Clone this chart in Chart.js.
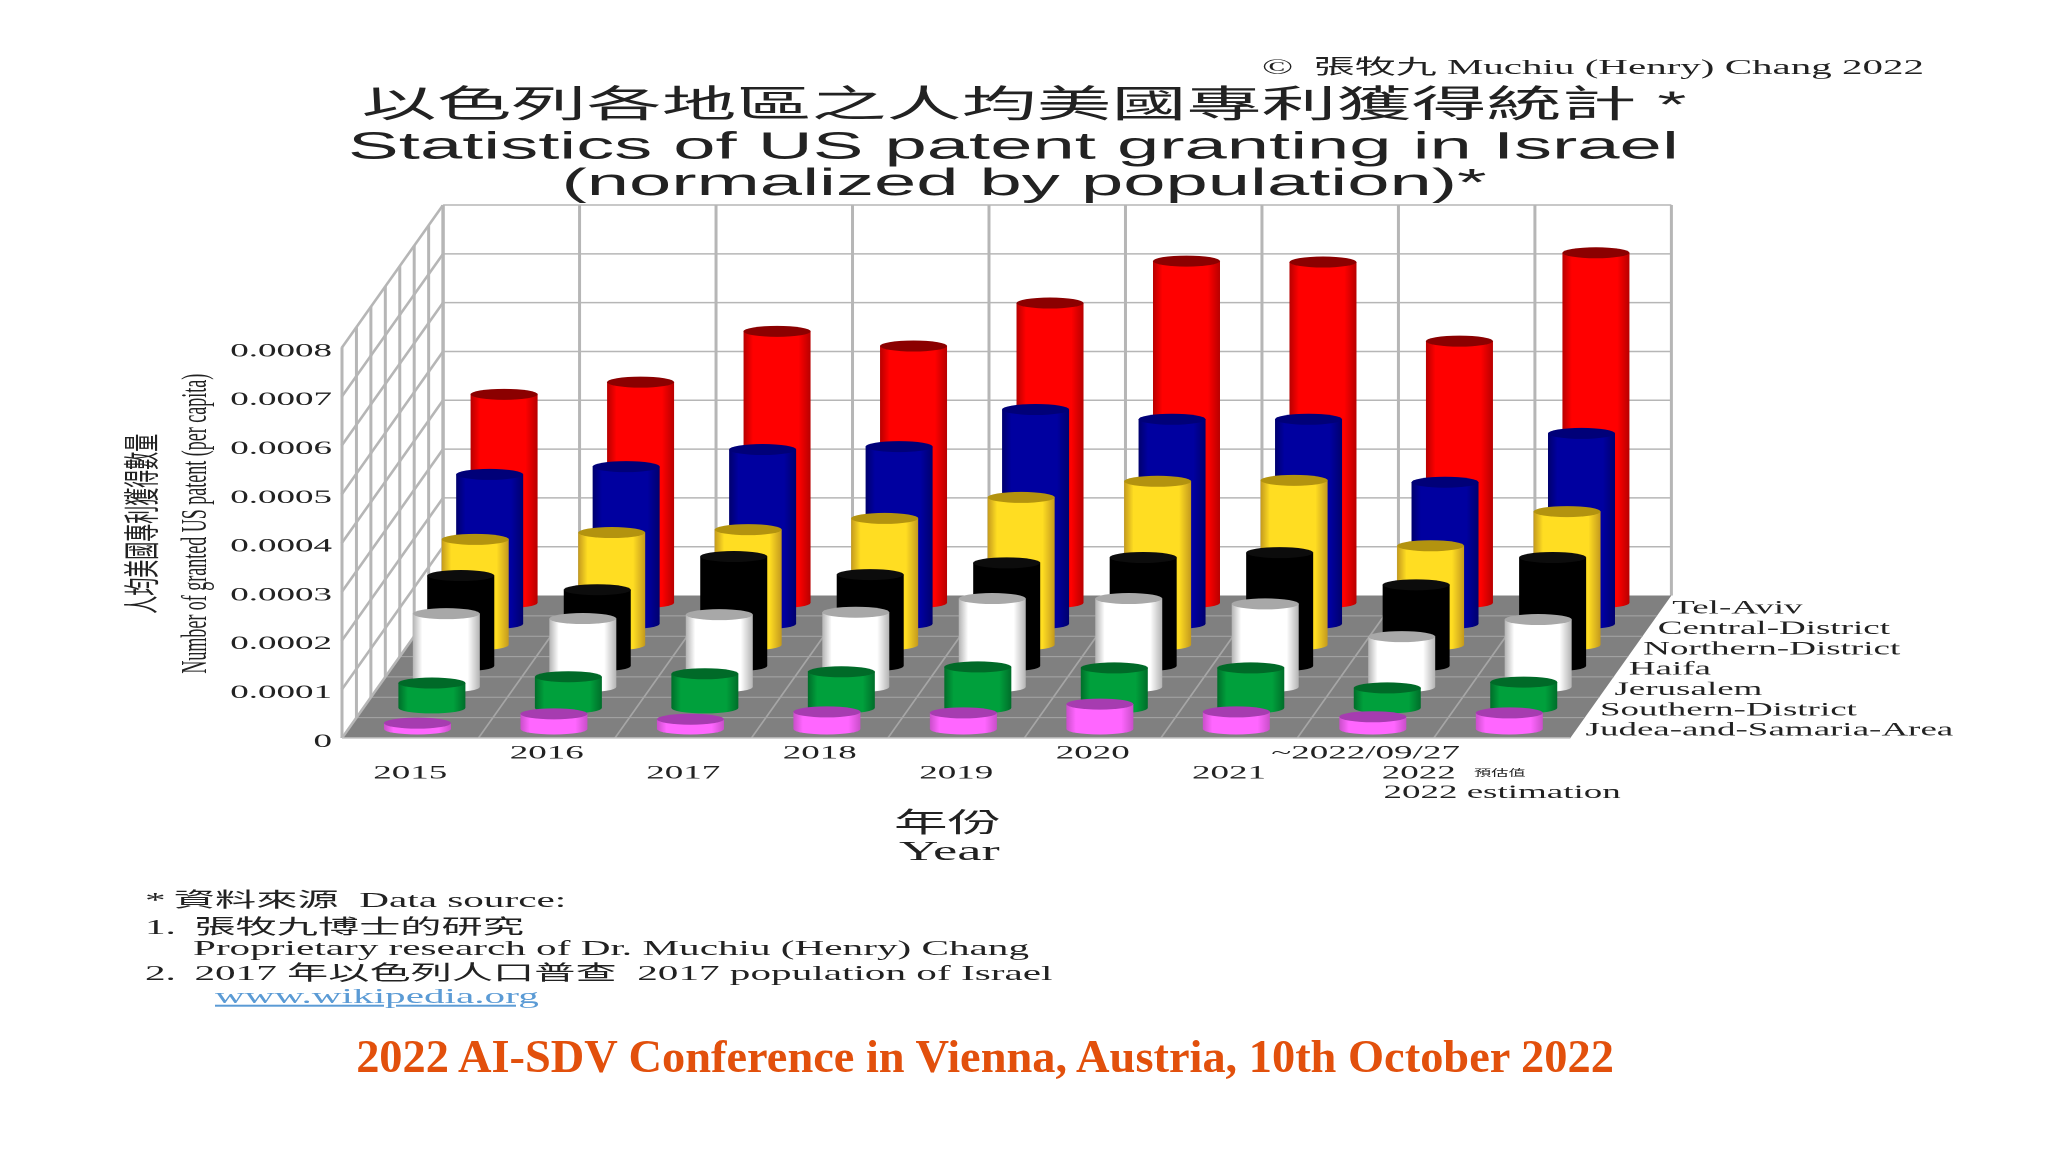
<!DOCTYPE html>
<html>
<head>
<meta charset="utf-8">
<title>Statistics of US patent granting in Israel</title>
<script src="https://cdn.jsdelivr.net/npm/chart.js@4/dist/chart.umd.min.js"></script>
<style>
    html, body { margin: 0; padding: 0; background: #fff; width: 2048px; height: 1152px; overflow: hidden; }
    /* the source slide is stretched sideways, so the whole chart is too */
    #stretch { position: absolute; left: 0; top: 0; height: 1152px; transform-origin: 0 0; }
    .note { position: absolute; white-space: pre; color: #222; line-height: 1; font-family: "Liberation Serif", "Noto Sans CJK TC", serif; transform: translateY(-50%); }
    .note a { color: #5b9bd5; text-decoration: underline; }
    #conference { position: absolute; left: 0; width: 1970px; top: 1056px; transform: translateY(-50%); text-align: center; color: #e2500c; font: bold 46.4px "Liberation Serif", serif; white-space: pre; }
</style>
</head>
<body>
<div id="stretch"><canvas id="patentChart"></canvas></div>
<div id="conference">2022 AI-SDV Conference in Vienna, Austria, 10th October 2022</div>

<script>
// ==============================================
// DATA (front row first)
// ==============================================
const years = ['2015', '2016', '2017', '2018', '2019', '2020', '2021', '~2022/09/27', '2022 estimation'];
const seriesNames = ['Judea-and-Samaria-Area', 'Southern-District', 'Jerusalem', 'Haifa', 'Northern-District', 'Central-District', 'Tel-Aviv'];

const judea    = [0.000012, 0.000031, 0.000020, 0.000035, 0.000033, 0.000051, 0.000035, 0.000025, 0.000033];
const southern = [0.000051, 0.000064, 0.000070, 0.000074, 0.000084, 0.000082, 0.000082, 0.000041, 0.000053];
const jerusalem = [0.000150, 0.000140, 0.000148, 0.000153, 0.000181, 0.000181, 0.000170, 0.000103, 0.000138];
const haifa    = [0.000185, 0.000156, 0.000224, 0.000187, 0.000211, 0.000222, 0.000232, 0.000166, 0.000222];
const northern = [0.000216, 0.000230, 0.000236, 0.000259, 0.000302, 0.000335, 0.000337, 0.000203, 0.000273];
const central  = [0.000306, 0.000322, 0.000357, 0.000363, 0.000439, 0.000419, 0.000419, 0.000290, 0.000390];
const telAviv  = [0.000427, 0.000452, 0.000556, 0.000526, 0.000614, 0.000700, 0.000698, 0.000536, 0.000717];
const seriesValues = [judea, southern, jerusalem, haifa, northern, central, telAviv];

const yTickMax = 0.0008;
const yTickStep = 0.0001;

// cylinder colours, same order as seriesNames
const bodyColors = ['#ff66ff', '#00a03c', '#ffffff', '#000000', '#ffdd22', '#0000a0', '#ff0000'];
const edgeColors = ['#c94fc9', '#006e2a', '#b4b4b4', '#000000', '#c49a1e', '#00006e', '#b80000'];
const capColors  = ['#a63cb0', '#006a28', '#a8a8a8', '#0c0c0c', '#b3930f', '#000078', '#8b0000'];

// ==============================================
// LAYOUT
// ==============================================
const STRETCH = 2.0;            // horizontal stretch of the whole slide
const CANVAS_W = 2048 / STRETCH;
const AXIS_LEFT = 342;          // screen px
const AXIS_BOTTOM = 738;

const X_MAX = 12.5;             // runs on to the canvas edge, grid stops at the last year
const Y_MAX = 0.00109;
const DEPTH_ROWS = seriesNames.length;
const DEPTH_X = 0.1058;         // floor shift per row, in year units
const DEPTH_Y = 0.0000417;      // floor shift per row, in value units
const BAR_FRONT_Y = 0.0000185;  // base of the front row
const BAR_DEPTH_Y = 0.0000431;
const BAR_W = 67 / STRETCH;
const CAP_RY = 5.5;

const TEXT_COLOR = '#222';
const SERIF = '"Liberation Serif", "Noto Sans CJK TC", serif';
const SANS = '"Liberation Sans", "Noto Sans CJK TC", sans-serif';

// floating bars: each row stands on its own strip of the floor
function buildDatasets() {
    return seriesNames.map((name, d) => ({
        label: name,
        data: seriesValues[d].map((v, i) => {
            const base = BAR_FRONT_Y + d * BAR_DEPTH_Y;
            return { x: i + 0.5 + (d + 0.5) * DEPTH_X, y: [base, base + v] };
        }),
        backgroundColor: bodyColors[d],
        barThickness: BAR_W,
        grouped: false
    }));
}

// ==============================================
// 3D ROOM PLUGIN (walls, floor, row names)
// ==============================================
function line(ctx, x1, y1, x2, y2) {
    ctx.beginPath();
    ctx.moveTo(x1, y1);
    ctx.lineTo(x2, y2);
    ctx.stroke();
}

const room3d = {
    id: 'room3d',
    beforeDatasetsDraw(chart) {
        const ctx = chart.ctx;
        const xs = chart.scales.x;
        const ys = chart.scales.y;
        const n = years.length;
        const px = (v, k) => xs.getPixelForValue(v + k * DEPTH_X);
        const py = (v, k) => ys.getPixelForValue(v + k * DEPTH_Y);

        ctx.save();
        // floor
        ctx.fillStyle = '#808080';
        ctx.beginPath();
        ctx.moveTo(px(0, 0), py(0, 0));
        ctx.lineTo(px(n, 0), py(0, 0));
        ctx.lineTo(px(n, DEPTH_ROWS), py(0, DEPTH_ROWS));
        ctx.lineTo(px(0, DEPTH_ROWS), py(0, DEPTH_ROWS));
        ctx.closePath();
        ctx.fill();

        ctx.strokeStyle = '#a6a6a6';
        ctx.lineWidth = 1;
        for (let k = 1; k < DEPTH_ROWS; k++) {
            line(ctx, px(0, k), py(0, k), px(n, k), py(0, k));
        }
        for (let i = 1; i < n; i++) {
            line(ctx, px(i, 0), py(0, 0), px(i, DEPTH_ROWS), py(0, DEPTH_ROWS));
        }

        // walls
        ctx.strokeStyle = '#b6b6b6';
        ctx.lineWidth = 1.5;
        for (let i = 0; i <= n; i++) {
            line(ctx, px(i, DEPTH_ROWS), py(0, DEPTH_ROWS), px(i, DEPTH_ROWS), py(yTickMax, DEPTH_ROWS));
        }
        for (let k = 0; k <= DEPTH_ROWS; k++) {
            line(ctx, px(0, k), py(0, k), px(0, k), py(yTickMax, k));
        }
        for (let t = 0; t <= 8; t++) {
            const v = t * yTickStep;
            line(ctx, px(0, 0), py(v, 0), px(0, DEPTH_ROWS), py(v, DEPTH_ROWS));
            if (t > 0) line(ctx, px(0, DEPTH_ROWS), py(v, DEPTH_ROWS), px(n, DEPTH_ROWS), py(v, DEPTH_ROWS));
        }
        ctx.strokeStyle = '#c4c4c4';
        line(ctx, px(0, 0), py(0, 0), px(n, 0), py(0, 0));

        // row names beside the floor
        ctx.fillStyle = TEXT_COLOR;
        ctx.font = '18.5px ' + SERIF;
        ctx.textAlign = 'left';
        ctx.textBaseline = 'middle';
        seriesNames.forEach((name, d) => {
            ctx.fillText(name, px(n, d + 0.5) + 4, py(0, d + 0.5) + 3);
        });
        ctx.restore();
    },
    // bars are painted as cylinders instead of rectangles
    beforeDatasetDraw(chart, args) {
        const ctx = chart.ctx;
        const d = args.index;
        args.meta.data.forEach(bar => {
            const p = bar.getProps(['x', 'y', 'base', 'width'], true);
            const rx = p.width / 2;
            const grad = ctx.createLinearGradient(p.x - rx, 0, p.x + rx, 0);
            grad.addColorStop(0, edgeColors[d]);
            grad.addColorStop(0.14, bodyColors[d]);
            grad.addColorStop(0.82, bodyColors[d]);
            grad.addColorStop(1, edgeColors[d]);

            ctx.fillStyle = grad;
            ctx.beginPath();
            ctx.moveTo(p.x - rx, p.y);
            ctx.lineTo(p.x - rx, p.base);
            ctx.ellipse(p.x, p.base, rx, CAP_RY, 0, Math.PI, 0, true);
            ctx.lineTo(p.x + rx, p.y);
            ctx.closePath();
            ctx.fill();

            ctx.fillStyle = capColors[d];
            ctx.beginPath();
            ctx.ellipse(p.x, p.y, rx, CAP_RY, 0, 0, Math.PI * 2);
            ctx.fill();
        });
        return false;
    }
};

// ==============================================
// TICK LABELS
// ==============================================
function yearTickLabel(value, index) {
    if (index === years.length - 1) {
        return ['', '2022' + ' '.repeat(18), years[index]];
    }
    return index % 2 === 0 ? ['', years[index]] : [years[index], ''];
}

// empty first line nudges the label a little below its grid line
function valueTickLabel(value) {
    if (value > yTickMax + 1e-9) return '';
    return ['', value === 0 ? '0' : value.toFixed(4)];
}

// ==============================================
// CHART
// ==============================================
function initChart() {
    new Chart(document.getElementById('patentChart'), {
        type: 'bar',
        data: { datasets: buildDatasets() },
        plugins: [room3d],
        options: {
            responsive: false,
            animation: false,
            devicePixelRatio: 2,
            layout: { padding: { left: 0, right: 0, top: 84, bottom: 0 } },
            plugins: {
                legend: { display: false },
                tooltip: { enabled: false },
                title: {
                    display: true,
                    text: '以色列各地區之人均美國專利獲得統計 *',
                    color: TEXT_COLOR,
                    font: { family: SANS, size: 37.5, weight: 'normal', lineHeight: 1.2 },
                    padding: { top: 0, bottom: 1 }
                },
                subtitle: {
                    display: true,
                    text: ['Statistics of US patent granting in Israel ', '(normalized by population)*'],
                    color: TEXT_COLOR,
                    font: { family: SANS, size: 38, weight: 'normal', lineHeight: 0.96 },
                    padding: { top: 0, bottom: 3 }
                }
            },
            scales: {
                x: {
                    type: 'linear',
                    offset: false,
                    min: 0,
                    max: X_MAX,
                    afterBuildTicks(scale) {
                        scale.ticks = years.map((y, i) => ({ value: i + 0.5 }));
                    },
                    afterFit(scale) { scale.height = 1152 - AXIS_BOTTOM; },
                    grid: { display: false },
                    border: { display: false },
                    ticks: {
                        autoSkip: false,
                        maxRotation: 0,
                        minRotation: 0,
                        padding: -2,
                        color: TEXT_COLOR,
                        font: { family: SERIF, size: 18.5, lineHeight: 1.06 },
                        callback: yearTickLabel
                    }
                },
                y: {
                    min: 0,
                    max: Y_MAX,
                    afterFit(scale) { scale.width = AXIS_LEFT / STRETCH; },
                    grid: { display: false, drawTicks: false },
                    border: { display: false },
                    title: {
                        display: true,
                        // trailing spaces push the centred lines down the axis
                        text: ['人均美國專利獲得數量' + ' '.repeat(23), 'Number of granted US patent (per capita)' + ' '.repeat(23)],
                        color: TEXT_COLOR,
                        font: { family: SERIF, size: 18, lineHeight: 1.42 },
                        padding: { top: 60, bottom: 0 }
                    },
                    ticks: {
                        stepSize: yTickStep,
                        padding: 5,
                        color: TEXT_COLOR,
                        font: { family: SERIF, size: 18.5, lineHeight: '8px' },
                        callback: valueTickLabel
                    }
                }
            }
        }
    });
}

// ==============================================
// NOTES AROUND THE CHART
// ==============================================
const noteLines = [
    { html: '©  張牧九 Muchiu (Henry) Chang 2022', x: 1262, y: 67, size: 20.5 },
    { html: '年份', x: 894, y: 823, size: 26.8 },
    { html: 'Year', x: 899, y: 852, size: 27.3 },
    { html: '預估值', x: 1474, y: 773, size: 8.6 },
    { html: '*\u2009資料來源  Data source:', x: 145, y: 900, size: 20.6 },
    { html: '1. \u2009張牧九博士的研究', x: 145, y: 927, size: 20.6 },
    { html: 'Proprietary research of Dr. Muchiu (Henry) Chang', x: 193, y: 948, size: 20.6 },
    { html: '2. \u20092017 年以色列人口普查  2017 population of Israel', x: 145, y: 973, size: 20.6 },
    { html: '<a>www.wikipedia.org</a>', x: 215, y: 996, size: 20.6 }
];

function initNotes() {
    const stage = document.getElementById('stretch');
    stage.style.width = CANVAS_W + 'px';
    stage.style.transform = 'scaleX(' + STRETCH + ')';
    noteLines.forEach(n => {
        const el = document.createElement('div');
        el.className = 'note';
        el.innerHTML = n.html;
        el.style.left = (n.x / STRETCH) + 'px';
        el.style.top = n.y + 'px';
        el.style.fontSize = n.size + 'px';
        stage.appendChild(el);
    });
}

document.addEventListener('DOMContentLoaded', function() {
    const canvas = document.getElementById('patentChart');
    canvas.width = CANVAS_W;
    canvas.height = 1152;
    canvas.style.width = CANVAS_W + 'px';
    canvas.style.height = '1152px';
    initNotes();
    initChart();
});
</script>
</body>
</html>
